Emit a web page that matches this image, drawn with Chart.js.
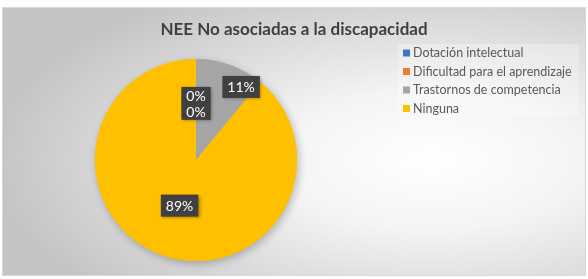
<!DOCTYPE html>
<html>
<head>
<meta charset="utf-8">
<script src="https://cdn.jsdelivr.net/npm/chart.js@4"></script>
<style>
  html, body { margin: 0; padding: 0; background: #fff; }
  #wrap { width: 588px; height: 279px; }
</style>
</head>
<body>
<div id="wrap"><canvas id="canv-chart" width="588" height="279"></canvas></div>
<script>
var chartTitle = 'NEE No asociadas a la discapacidad';
var categories = ['Dotación intelectual', 'Dificultad para el aprendizaje', 'Trastornos de competencia', 'Ninguna'];
var percents = [0, 0, 11, 89];
var colors = ['#4472C4', '#ED7D31', '#A5A5A5', '#FFC000'];

var FONT = 'Lato, "Open Sans", sans-serif';

// background, title and legend in the style of the original office chart
var framePlugin = {
    id: 'frame',
    beforeDraw: function (chart) {
        var c = chart.ctx;
        c.save();
        c.fillStyle = '#fff';
        c.fillRect(0, 0, chart.width, chart.height);
        // elliptical light spot on grey
        c.save();
        c.beginPath();
        c.rect(2, 7, 584, 269);
        c.clip();
        c.translate(430, 160);
        c.scale(1, 0.45);
        var g = c.createRadialGradient(0, 0, 0, 0, 0, 440);
        g.addColorStop(0, '#ffffff');
        g.addColorStop(0.35, '#f4f4f4');
        g.addColorStop(1, '#c4c4c4');
        c.fillStyle = g;
        c.fillRect(-500, -700, 1000, 1400);
        c.restore();
        c.strokeStyle = '#d9d9d9';
        c.lineWidth = 1;
        c.strokeRect(2.5, 7.5, 583, 268);

        // title
        c.fillStyle = '#404040';
        c.font = 'bold 17px ' + FONT;
        c.textAlign = 'center';
        c.textBaseline = 'alphabetic';
        c.fillText(chartTitle, 294, 35);

        // legend
        c.fillStyle = 'rgba(255,255,255,0.28)';
        c.fillRect(398, 44, 181, 72);
        c.font = '12.5px ' + FONT;
        c.textAlign = 'left';
        c.textBaseline = 'middle';
        for (var i = 0; i < categories.length; i++) {
            var y = 53 + i * 18.5;
            c.fillStyle = colors[i];
            c.fillRect(403, y - 3.5, 7, 7);
            c.fillStyle = '#595959';
            c.fillText(categories[i], 413, y);
        }
        c.restore();
    },
    beforeDatasetsDraw: function (chart) {
        var c = chart.ctx;
        c.save();
        c.shadowColor = 'rgba(0,0,0,0.25)';
        c.shadowBlur = 8;
        c.shadowOffsetX = 2;
        c.shadowOffsetY = 3;
        var arc = chart.getDatasetMeta(0).data[0];
        c.fillStyle = '#FFC000';
        c.beginPath();
        c.arc(arc.x, arc.y, arc.outerRadius, 0, Math.PI * 2);
        c.fill();
        c.restore();
    },
    afterDatasetsDraw: function (chart) {
        var c = chart.ctx;
        var meta = chart.getDatasetMeta(0);
        var zeroCount = 0;
        c.save();
        c.font = '14px ' + FONT;
        c.textAlign = 'center';
        c.textBaseline = 'middle';
        for (var i = 0; i < meta.data.length; i++) {
            var a = meta.data[i];
            var v = percents[i];
            var r = a.outerRadius;
            var ang, dist;
            if (v === 0) {
                ang = a.startAngle;
                dist = r * 0.64 - zeroCount * 16;
                zeroCount++;
            } else if (v < 20) {
                ang = a.startAngle + (a.endAngle - a.startAngle) * 0.8;
                dist = r * 0.85;
            } else {
                ang = (a.startAngle + a.endAngle) / 2;
                dist = r * 0.48;
            }
            var x = a.x + Math.cos(ang) * dist;
            var y = a.y + Math.sin(ang) * dist;
            var txt = v + '%';
            var w = c.measureText(txt).width + 10;
            var h = v === 0 ? 17 : 22;
            c.save();
            c.shadowColor = 'rgba(0,0,0,0.35)';
            c.shadowBlur = 3;
            c.shadowOffsetX = 1.5;
            c.shadowOffsetY = 1.5;
            c.fillStyle = '#404040';
            c.fillRect(x - w / 2, y - h / 2, w, h);
            c.restore();
            c.fillStyle = '#ffffff';
            c.fillText(txt, x, y + 1);
        }
        c.restore();
    }
};

var ctx = document.getElementById('canv-chart');
var myChart = new Chart(ctx, {
    type: 'pie',
    data: {
        labels: categories,
        datasets: [{
            data: percents,
            backgroundColor: colors,
            borderWidth: 0
        }]
    },
    options: {
        responsive: false,
        animation: false,
        layout: { padding: { left: 95, right: 291, top: 59, bottom: 18 } },
        plugins: {
            legend: { display: false },
            title: { display: false },
            tooltip: { enabled: false }
        }
    },
    plugins: [framePlugin]
});
</script>
</body>
</html>
